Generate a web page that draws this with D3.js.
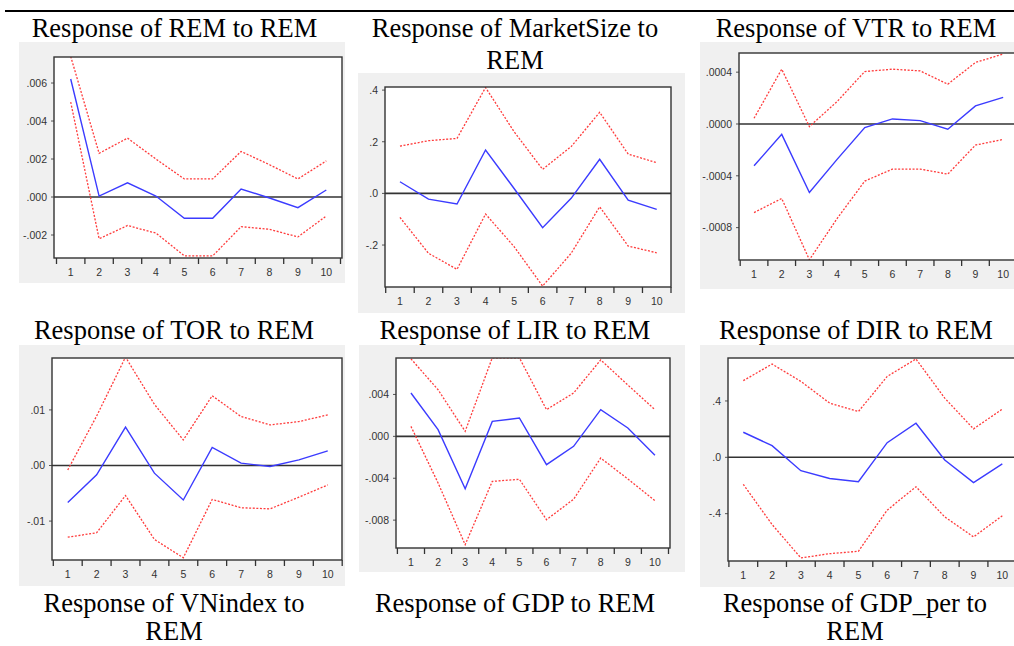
<!DOCTYPE html>
<html><head><meta charset="utf-8">
<script src="https://cdn.jsdelivr.net/npm/d3@7"></script>
<style>
html,body{margin:0;padding:0;background:#fff;}
svg{display:block;}
</style></head>
<body><svg id="chart" width="1014" height="646"></svg>
<script>
// ---------- data ----------
const periods = [1,2,3,4,5,6,7,8,9,10];

const titles = [
  ["Response of REM to REM"],
  ["Response of MarketSize to", "REM"],
  ["Response of VTR to REM"],
  ["Response of TOR to REM"],
  ["Response of LIR to REM"],
  ["Response of DIR to REM"]
];
const bottomTitles = [
  ["Response of VNindex to", "REM"],
  ["Response of GDP to REM"],
  ["Response of GDP_per to", "REM"]
];

const remResp  = [0.00621, 0.00005, 0.00075, 0.00005, -0.00112, -0.00112, 0.00042, -0.00005, -0.00056, 0.00037];
const remUpper = [0.0074, 0.0023, 0.0031, 0.0020, 0.00095, 0.00095, 0.0024, 0.0017, 0.00095, 0.0019];
const remLower = [0.0050, -0.0022, -0.0015, -0.0019, -0.0031, -0.0031, -0.00156, -0.0017, -0.0021, -0.0010];

const msResp  = [0.045, -0.022, -0.041, 0.168, 0.019, -0.133, -0.019, 0.132, -0.026, -0.062];
const msUpper = [0.183, 0.204, 0.213, 0.41, 0.239, 0.093, 0.181, 0.314, 0.152, 0.119];
const msLower = [-0.093, -0.232, -0.294, -0.08, -0.206, -0.359, -0.232, -0.052, -0.204, -0.23];

const vtrResp  = [-0.000323, -0.00008, -0.000529, -0.000273, -0.000028, 0.000039, 0.000026, -0.00004, 0.00014, 0.000206];
const vtrUpper = [0.000044, 0.000423, -0.00002, 0.000173, 0.000405, 0.000423, 0.00041, 0.000307, 0.000475, 0.00054];
const vtrLower = [-0.000684, -0.000575, -0.001048, -0.00073, -0.000441, -0.000348, -0.000348, -0.000387, -0.000163, -0.000119];

const torResp  = [-0.00667, -0.00168, 0.0069, -0.00138, -0.0062, 0.00324, 0.00042, -0.00018, 0.001, 0.00264];
const torUpper = [-0.0008, 0.0089, 0.0195, 0.011, 0.0046, 0.01255, 0.0088, 0.0073, 0.0079, 0.0091];
const torLower = [-0.0129, -0.0121, -0.0054, -0.0133, -0.0166, -0.0061, -0.0076, -0.0078, -0.0057, -0.0035];

const lirResp  = [0.00414, 0.00064, -0.005, 0.00143, 0.00175, -0.0027, -0.00095, 0.00255, 0.0008, -0.0018];
const lirUpper = [0.0074, 0.00445, 0.00048, 0.0075, 0.0075, 0.00255, 0.00414, 0.0073, 0.0049, 0.00255];
const lirLower = [0.00095, -0.00445, -0.01034, -0.0043, -0.0041, -0.00796, -0.0060, -0.00207, -0.00407, -0.00614];

const dirResp  = [0.178, 0.083, -0.095, -0.15, -0.173, 0.104, 0.242, -0.019, -0.18, -0.047];
const dirUpper = [0.544, 0.662, 0.539, 0.385, 0.325, 0.574, 0.698, 0.42, 0.202, 0.342];
const dirLower = [-0.192, -0.477, -0.714, -0.684, -0.667, -0.375, -0.209, -0.423, -0.565, -0.415];

// y ticks (value, label)
const remTicks = [[0.006,".006"],[0.004,".004"],[0.002,".002"],[0,".000"],[-0.002,"-.002"]];
const msTicks  = [[0.4,".4"],[0.2,".2"],[0,".0"],[-0.2,"-.2"]];
const vtrTicks = [[0.0004,".0004"],[0,".0000"],[-0.0004,"-.0004"],[-0.0008,"-.0008"]];
const torTicks = [[0.01,".01"],[0,".00"],[-0.01,"-.01"]];
const lirTicks = [[0.004,".004"],[0,".000"],[-0.004,"-.004"],[-0.008,"-.008"]];
const dirTicks = [[0.4,".4"],[0,".0"],[-0.4,"-.4"]];

// y domains (visible range of each frame)
const remDomain = [-0.00321, 0.00737];
const msDomain  = [-0.3625, 0.412];
const vtrDomain = [-0.00105, 0.000548];
const torDomain = [-0.017, 0.01934];
const lirDomain = [-0.01066, 0.00748];
const dirDomain = [-0.736, 0.705];

// ---------- layout ----------
const layout = [
  {bg:[19,42,326,241],  fr:[54,57,288,201],  band:[56.5,340.5], tx:174.5, ty:[37]},
  {bg:[358,73,327,240], fr:[385,87,286,200], band:[385.7,671],  tx:515, ty:[37,68.5]},
  {bg:[700,42,320,247], fr:[739,53,290,207], band:[740.2,1017], tx:856, ty:[37]},
  {bg:[19,345,326,241], fr:[52,358,290,202], band:[53.3,342.2], tx:174, ty:[339]},
  {bg:[359,345,326,227],fr:[396,358,274,190],band:[397.4,668.5],tx:515, ty:[339]},
  {bg:[700,345,320,242],fr:[728,358,300,203],band:[728.9,1016.7],tx:856,ty:[339]}
];
const bottomLayout = [{tx:174, ty:[612,640]},{tx:515, ty:[612]},{tx:855, ty:[612,640]}];

const panels = [
  {resp:remResp, up:remUpper, lo:remLower, ticks:remTicks, dom:remDomain},
  {resp:msResp,  up:msUpper,  lo:msLower,  ticks:msTicks,  dom:msDomain},
  {resp:vtrResp, up:vtrUpper, lo:vtrLower, ticks:vtrTicks, dom:vtrDomain},
  {resp:torResp, up:torUpper, lo:torLower, ticks:torTicks, dom:torDomain},
  {resp:lirResp, up:lirUpper, lo:lirLower, ticks:lirTicks, dom:lirDomain},
  {resp:dirResp, up:dirUpper, lo:dirLower, ticks:dirTicks, dom:dirDomain}
];

const svg = d3.select("#chart");
const serif = "'Liberation Serif','Times New Roman',serif";
const sans = "'Liberation Sans',Arial,sans-serif";
const titleSize = 26.5;

// top rule
svg.append("line").attr("x1",5).attr("x2",1014).attr("y1",11).attr("y2",11)
  .attr("stroke","#000").attr("stroke-width",2);

panels.forEach((p, i) => {
  const L = layout[i];
  const g = svg.append("g");
  g.append("rect").attr("x",L.bg[0]).attr("y",L.bg[1]).attr("width",L.bg[2]).attr("height",L.bg[3])
    .attr("fill","#f0f0f0");
  const [fx, fy, fw, fh] = L.fr;
  g.append("rect").attr("x",fx).attr("y",fy).attr("width",fw).attr("height",fh)
    .attr("fill","#fff");

  const x = d3.scaleBand().domain(periods).range(L.band);
  const y = d3.scaleLinear().domain(p.dom).range([fy+fh, fy]);

  const clipId = "clip"+i;
  g.append("clipPath").attr("id",clipId).append("rect")
    .attr("x",fx).attr("y",fy).attr("width",fw).attr("height",fh);

  // y axis ticks and labels
  p.ticks.forEach(([v, lab]) => {
    g.append("line").attr("x1",fx-3).attr("x2",fx).attr("y1",y(v)).attr("y2",y(v))
      .attr("stroke","#555").attr("stroke-width",1);
    g.append("text").attr("x",fx-7).attr("y",y(v)+3.8).attr("text-anchor","end")
      .attr("font-family",sans).attr("font-size",10.5).attr("fill","#333").text(lab);
  });

  // x axis via d3 axis
  const xAxis = d3.axisBottom(x).tickSize(0).tickPadding(11);
  const ax = g.append("g").attr("transform",`translate(0,${fy+fh})`).call(xAxis);
  ax.select(".domain").remove();
  ax.selectAll("text").attr("font-family",sans).attr("font-size",10.5).attr("fill","#333");
  // boundary ticks
  const bounds = periods.map(d => x(d)).concat([x(periods[periods.length-1]) + x.bandwidth()]);
  g.selectAll(null).data(bounds).enter().append("line")
    .attr("x1",d=>d).attr("x2",d=>d).attr("y1",fy+fh).attr("y2",fy+fh+6)
    .attr("stroke","#333").attr("stroke-width",1.3);

  const line = d3.line().x((d,k) => x(periods[k]) + x.bandwidth()/2).y(d => y(d));
  const lg = g.append("g").attr("clip-path",`url(#${clipId})`);
  // zero line
  lg.append("line").attr("x1",fx).attr("x2",fx+fw).attr("y1",y(0)).attr("y2",y(0))
    .attr("stroke","#333").attr("stroke-width",1.6);
  lg.append("path").datum(p.up).attr("d",line).attr("fill","none")
    .attr("stroke","#ff3b3b").attr("stroke-width",1.3).attr("stroke-dasharray","2,1.6");
  lg.append("path").datum(p.lo).attr("d",line).attr("fill","none")
    .attr("stroke","#ff3b3b").attr("stroke-width",1.3).attr("stroke-dasharray","2,1.6");
  lg.append("path").datum(p.resp).attr("d",line).attr("fill","none")
    .attr("stroke","#3b3bff").attr("stroke-width",1.4);

  // frame
  g.append("rect").attr("x",fx).attr("y",fy).attr("width",fw).attr("height",fh)
    .attr("fill","none").attr("stroke","#333").attr("stroke-width",1.4);

  // title
  titles[i].forEach((t, k) => {
    svg.append("text").attr("x",L.tx).attr("y",L.ty[k]).attr("text-anchor","middle")
      .attr("font-family",serif).attr("font-size",titleSize).attr("fill","#000").text(t);
  });
});

bottomTitles.forEach((lines, i) => {
  const B = bottomLayout[i];
  lines.forEach((t, k) => {
    svg.append("text").attr("x",B.tx).attr("y",B.ty[k]).attr("text-anchor","middle")
      .attr("font-family",serif).attr("font-size",titleSize).attr("fill","#000").text(t);
  });
});
</script>
</body></html>
